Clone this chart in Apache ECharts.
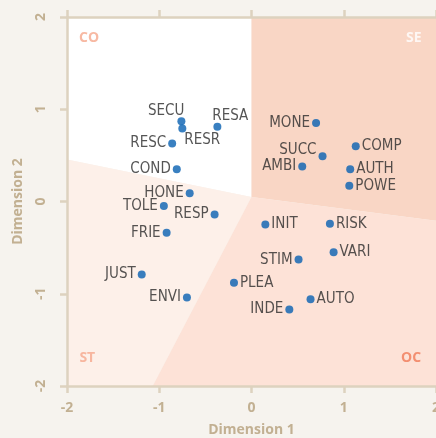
<!DOCTYPE html>
<html><head><meta charset="utf-8">
<script src="https://cdn.jsdelivr.net/npm/echarts@6/dist/echarts.min.js"></script>
<style>html,body{margin:0;padding:0;background:#f6f3ee}#c{width:436px;height:438px}</style>
</head><body><div id="c"></div>
<script>
// point labels and coordinates (Dimension 1, Dimension 2)
const names = ['SECU','RESR','RESA','RESC','MONE','SUCC','COMP','AMBI','AUTH','POWE','COND','HONE','TOLE','RESP','INIT','RISK','FRIE','VARI','STIM','JUST','PLEA','ENVI','AUTO','INDE'];
const dim1 = [-0.76,-0.75,-0.37,-0.86,0.70,0.77,1.13,0.55,1.07,1.06,-0.81,-0.67,-0.95,-0.40,0.15,0.85,-0.92,0.89,0.51,-1.19,-0.19,-0.70,0.64,0.41];
const dim2 = [0.87,0.79,0.81,0.63,0.85,0.49,0.60,0.38,0.35,0.17,0.35,0.09,-0.05,-0.14,-0.25,-0.24,-0.34,-0.55,-0.63,-0.79,-0.88,-1.04,-1.06,-1.17];
const labelSide = ['L','R','R','L','L','L','R','L','R','R','L','L','L','L','R','R','L','R','L','L','R','L','R','L'];
// region polygons
const regionNames = ['CO','SE','ST','OC'];
const regionCO = [[-2,2],[0,2],[0,0.05],[-2,0.455]];
const regionSE = [[0,2],[2,2],[2,-0.21],[0,0.05]];
const regionST = [[-2,0.455],[0,0.05],[-1.07,-2],[-2,-2]];
const regionOC = [[0,0.05],[2,-0.21],[2,-2],[-1.07,-2]];
const regionLabelX = [-1.76,1.76,-1.78,1.73];
const regionLabelY = [1.77,1.77,-1.70,-1.70];
const xTicks = [-2,-1,0,1,2];
const yTicks = [-2,-1,0,1,2];

const regions = [regionCO, regionSE, regionST, regionOC];
const regionFill = ['#ffffff','#f9d6c5','#fdf0e9','#fde2d7'];
const regionText = ['#f5a88c','#ffffff','#f5a88c','#f07b57'];
const offsets = {SECU:[9,-10], RESA:[-11,-11], RESR:[-4,11], SUCC:[0,-6]};

const axisCol = '#ddd2bf', txtCol = '#c2b092';
const chart = echarts.init(document.getElementById('c'));
const pts = names.map((n,i)=>({
  value:[dim1[i],dim2[i]], name:n,
  label:{position: labelSide[i]==='L'?'left':'right', offset: offsets[n]||[0,0]}
}));
const axisCommon = {
  type:'value', min:-2, max:2, interval:1, z:10,
  axisLine:{show:true, onZero:false, lineStyle:{color:axisCol, width:2.5}},
  axisTick:{show:true, length:7, lineStyle:{color:axisCol, width:2.5}},
  splitLine:{show:false}
};
chart.setOption({
  backgroundColor:'#f6f3ee',
  animation:false,
  grid:{left:67, right:0, top:17, bottom:52, containLabel:false, outerBoundsMode:'none'},
  xAxis:[
    Object.assign({}, axisCommon, {position:'bottom', name:'Dimension 1', nameLocation:'middle', nameGap:37,
      nameTextStyle:{color:txtCol, fontSize:14, fontWeight:'bold', fontFamily:'Open Sans'},
      axisLabel:{color:txtCol, fontSize:14, fontWeight:'bold', fontFamily:'Open Sans', margin:15,
        formatter:v=>xTicks.includes(v)?String(v):''}}),
    Object.assign({}, axisCommon, {position:'top', axisLabel:{show:false}})
  ],
  yAxis:[
    Object.assign({}, axisCommon, {position:'left', name:'Dimension 2', nameLocation:'middle', nameGap:42,
      nameTextStyle:{color:txtCol, fontSize:14, fontWeight:'bold', fontFamily:'Open Sans'},
      axisLabel:{color:txtCol, fontSize:14, fontWeight:'bold', fontFamily:'Open Sans', margin:19, rotate:90,
        formatter:v=>yTicks.includes(v)?String(v):''}})
  ],
  series:[
    {type:'custom', z:1, silent:true, clip:true,
     data: regions.map((r,i)=>[i]),
     renderItem:(params, api)=>{
       const r = regions[params.dataIndex];
       return {type:'polygon', shape:{points:r.map(p=>api.coord(p))},
               style:{fill:regionFill[params.dataIndex], stroke:null}};
     }},
    {type:'scatter', z:3, symbolSize:0, silent:true,
     data: regionNames.map((n,i)=>({value:[regionLabelX[i],regionLabelY[i]], name:n,
        label:{color:regionText[i]}})),
     label:{show:true, position:'inside', formatter:'{b}', fontSize:14, fontWeight:'bold', fontFamily:'Open Sans'}},
    {type:'scatter', z:5, symbolSize:8, itemStyle:{color:'#0860b2'},
     data: pts,
     label:{show:true, formatter:'{b}', distance:2, color:'#2b2b2b', fontSize:15,
       fontFamily:"'Liberation Sans Narrow','DejaVu Sans Condensed',sans-serif"}}
  ]
});
</script></body></html>
